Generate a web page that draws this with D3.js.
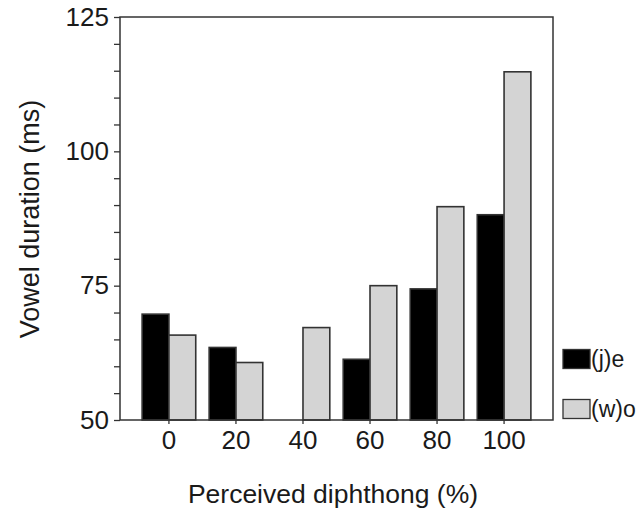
<!DOCTYPE html>
<html>
<head>
<meta charset="utf-8">
<script src="https://cdn.jsdelivr.net/npm/d3@7"></script>
<style>
  body { margin: 0; background: #fff; }
  text { font-family: "Liberation Sans", Arial, sans-serif; fill: #1a1a1a; }
</style>
</head>
<body>
<div id="chart"></div>
<script>
var categories = ["0", "20", "40", "60", "80", "100"];
var seriesNames = ["(j)e", "(w)o"];
var jeValues = [69.7, 63.5, null, 61.3, 74.4, 88.2];
var woValues = [65.8, 60.7, 67.2, 75.0, 89.7, 114.8];
var yTicks = [50, 75, 100, 125];

var width = 639, height = 519;
var margin = {top: 17, right: 86, bottom: 99, left: 120};
var plotW = width - margin.left - margin.right,
    plotH = height - margin.top - margin.bottom;

var colors = {"(j)e": "#000000", "(w)o": "#d4d4d4"};
var stroke = "#333";

var data = categories.map(function(c, i) {
  return {cat: c, values: [
    {key: "(j)e", value: jeValues[i]},
    {key: "(w)o", value: woValues[i]}
  ]};
});

var svg = d3.select("#chart").append("svg")
    .attr("width", width)
    .attr("height", height)
  .append("g")
    .attr("transform", "translate(" + margin.left + "," + margin.top + ")");

var x = d3.scaleBand()
    .domain(categories)
    .range([0, plotW])
    .paddingInner(0.2)
    .paddingOuter(0.33);

var x1 = d3.scaleBand()
    .domain(seriesNames)
    .range([0, x.bandwidth()]);

var y = d3.scaleLinear()
    .domain([50, 125])
    .range([plotH, 0]);

// bars
svg.append("g")
  .selectAll("g")
  .data(data)
  .enter().append("g")
    .attr("transform", function(d) { return "translate(" + x(d.cat) + ",0)"; })
  .selectAll("rect")
  .data(function(d) { return d.values.filter(function(v) { return v.value != null; }); })
  .enter().append("rect")
    .attr("x", function(d) { return x1(d.key); })
    .attr("y", function(d) { return y(d.value); })
    .attr("width", x1.bandwidth())
    .attr("height", function(d) { return y(50) - y(d.value); })
    .attr("fill", function(d) { return colors[d.key]; })
    .attr("stroke", stroke)
    .attr("stroke-width", 1.6);

// y axis with minor ticks
var yAxis = svg.append("g")
    .call(d3.axisLeft(y)
      .tickValues(d3.range(50, 126, 5))
      .tickSize(6)
      .tickPadding(5)
      .tickFormat(function(d) { return yTicks.indexOf(d) >= 0 ? d : ""; }));
yAxis.select(".domain").remove();
yAxis.selectAll("line").attr("stroke", stroke).attr("stroke-width", 1.3);
yAxis.selectAll("text")
    .attr("font-family", null)
    .style("font-size", "26px")
    .attr("fill", "#1a1a1a");

// x axis
var xAxis = svg.append("g")
    .attr("transform", "translate(0," + plotH + ")")
    .call(d3.axisBottom(x).tickSize(4).tickPadding(7));
xAxis.select(".domain").remove();
xAxis.selectAll("line").attr("stroke", stroke).attr("stroke-width", 1.3);
xAxis.selectAll("text")
    .attr("font-family", null)
    .style("font-size", "26px")
    .attr("fill", "#1a1a1a");

// frame
svg.append("rect")
    .attr("x", 0)
    .attr("y", 0)
    .attr("width", plotW)
    .attr("height", plotH)
    .attr("fill", "none")
    .attr("stroke", stroke)
    .attr("stroke-width", 1.5);

// axis titles
svg.append("text")
    .attr("x", 333 - margin.left)
    .attr("y", plotH + 83)
    .attr("text-anchor", "middle")
    .style("font-size", "26.5px")
    .text("Perceived diphthong (%)");

svg.append("text")
    .attr("transform", "rotate(-90)")
    .attr("x", -(219 - margin.top))
    .attr("y", 39 - margin.left)
    .attr("text-anchor", "middle")
    .style("font-size", "27px")
    .text("Vowel duration (ms)");

// legend
var legend = svg.append("g")
    .attr("transform", "translate(" + (plotW + 10) + ",0)");
var legendY = [359, 409];
seriesNames.forEach(function(s, i) {
  var cy = legendY[i] - margin.top;
  legend.append("rect")
      .attr("x", 0)
      .attr("y", cy - 9.5)
      .attr("width", 27)
      .attr("height", 19)
      .attr("fill", colors[s])
      .attr("stroke", stroke)
      .attr("stroke-width", 1.3);
  legend.append("text")
      .attr("x", 28)
      .attr("y", cy)
      .attr("dy", "0.36em")
      .style("font-size", "23px")
      .text(s);
});
</script>
</body>
</html>
